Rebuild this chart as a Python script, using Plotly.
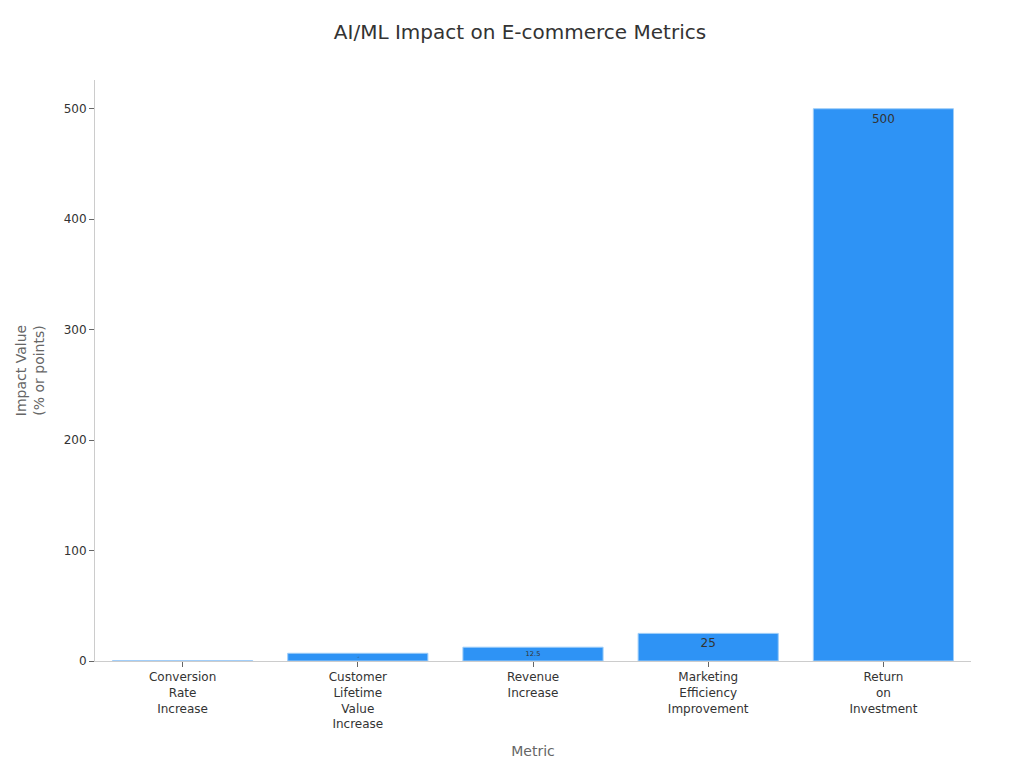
import plotly.graph_objects as go

categories = ["Conversion<br>Rate<br>Increase", "Customer<br>Lifetime<br>Value<br>Increase",
              "Revenue<br>Increase", "Marketing<br>Efficiency<br>Improvement", "Return<br>on<br>Investment"]
values = [0.3, 7, 12.5, 25, 500]

fig = go.Figure(go.Bar(
    x=categories, y=values, text=[str(v) for v in values],
    textposition="inside", insidetextanchor="end",
    textfont=dict(color="#333333", size=12),
    marker=dict(color="#2E93F5", line=dict(color="#9ecdf8", width=1)),
))
fig.update_layout(
    width=1024, height=768, template="simple_white",
    font=dict(family="DejaVu Sans", size=12, color="#333333"),
    title=dict(text="AI/ML Impact on E-commerce Metrics", x=0.5, xanchor="center", y=0.978,
               font=dict(size=20, color="#333333")),
    margin=dict(l=87, r=61, t=72, b=115),
    bargap=0.2,
    xaxis=dict(title=dict(text="Metric", font=dict(color="#666666", size=14)),
               linecolor="#cccccc", tickcolor="#666666", ticks="outside"),
    yaxis=dict(title=dict(text="Impact Value<br>(% or points)", font=dict(color="#666666", size=14)),
               range=[0, 526], linecolor="#cccccc", tickcolor="#666666", ticks="outside",
               tickvals=[0, 100, 200, 300, 400, 500]),
)
fig.write_html("out.html")
